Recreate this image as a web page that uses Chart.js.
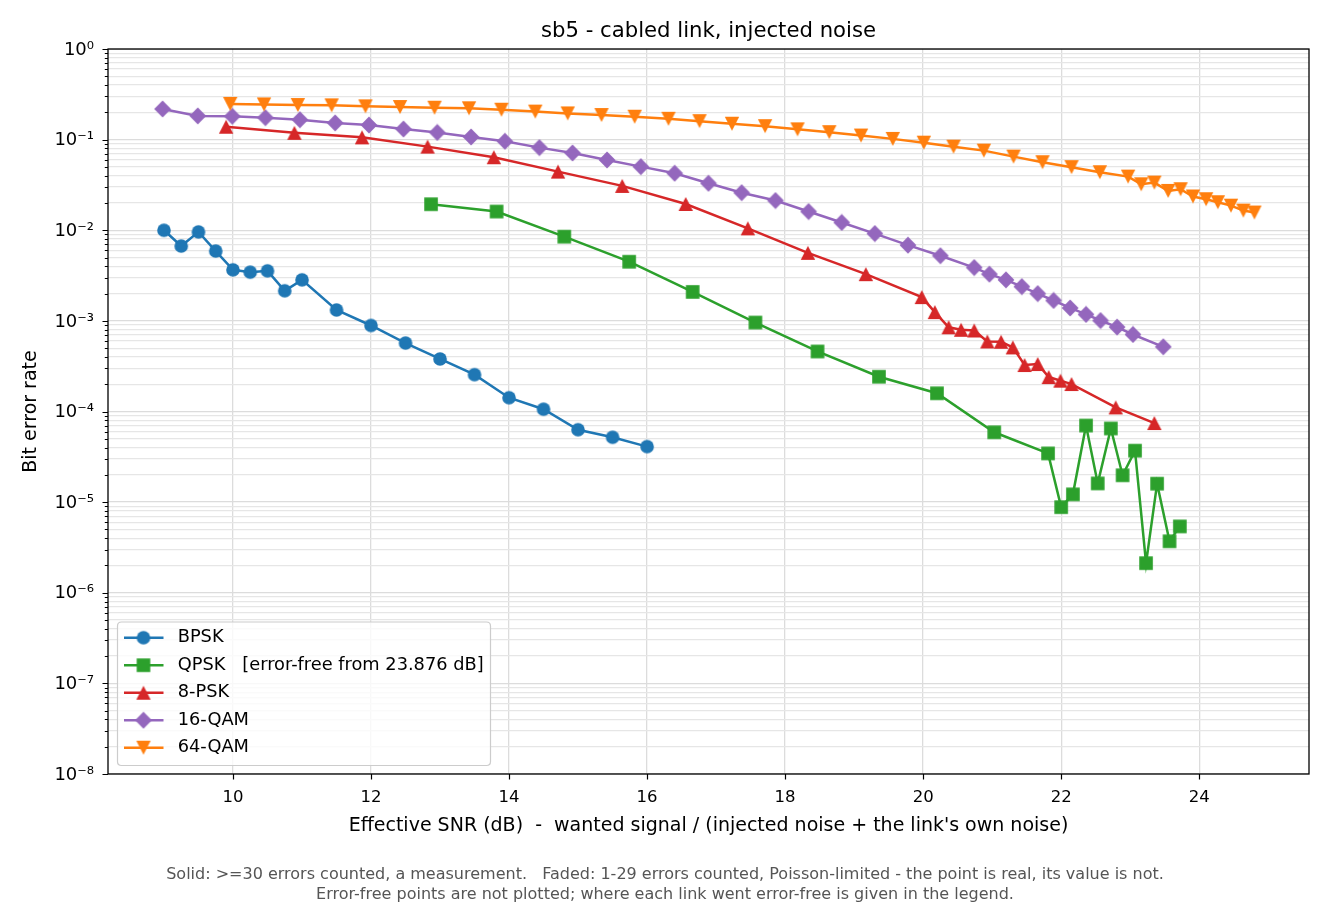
<!DOCTYPE html>
<html><head><meta charset="utf-8">
<script src="https://cdn.jsdelivr.net/npm/chart.js@4.4.0/dist/chart.umd.min.js"></script>
<style>html,body{margin:0;padding:0;background:#fff}canvas{display:block}</style>
</head><body>
<canvas id="c" width="1330" height="910" style="width:1330px;height:910px"></canvas>
<script>
const FONT = "'DejaVu Sans', sans-serif";

// ---- data ----
const bpskSnr = [9.0, 9.25, 9.5, 9.75, 10.0, 10.25, 10.5, 10.75, 11.0, 11.5, 12.0, 12.5, 13.0, 13.5, 14.0, 14.5, 15.0, 15.5, 16.0];
const bpskBer = [1.00e-2, 6.7e-3, 9.6e-3, 5.9e-3, 3.66e-3, 3.45e-3, 3.57e-3, 2.15e-3, 2.84e-3, 1.32e-3, 8.9e-4, 5.7e-4, 3.8e-4, 2.55e-4, 1.42e-4, 1.06e-4, 6.3e-5, 5.2e-5, 4.1e-5];

const qpskSnr = [12.87, 13.82, 14.80, 15.74, 16.66, 17.57, 18.47, 19.36, 20.20, 21.03, 21.81, 22.00, 22.17, 22.36, 22.53, 22.72, 22.89, 23.07, 23.23, 23.39, 23.57, 23.72];
const qpskBer = [1.94e-2, 1.61e-2, 8.5e-3, 4.5e-3, 2.09e-3, 9.6e-4, 4.6e-4, 2.42e-4, 1.59e-4, 5.9e-5, 3.45e-5, 8.8e-6, 1.22e-5, 7.0e-5, 1.61e-5, 6.5e-5, 1.98e-5, 3.7e-5, 2.12e-6, 1.6e-5, 3.7e-6, 5.4e-6];

const psk8Snr = [9.90, 10.89, 11.87, 12.82, 13.78, 14.71, 15.64, 16.56, 17.46, 18.33, 19.17, 19.98, 20.17, 20.37, 20.55, 20.74, 20.93, 21.13, 21.30, 21.47, 21.66, 21.82, 21.99, 22.15, 22.79, 23.35];
const psk8Ber = [0.139, 0.119, 0.106, 0.0838, 0.064, 0.0444, 0.0309, 0.0195, 0.0105, 5.64e-3, 3.28e-3, 1.83e-3, 1.25e-3, 8.5e-4, 7.98e-4, 7.84e-4, 5.93e-4, 5.88e-4, 5.1e-4, 3.26e-4, 3.34e-4, 2.40e-4, 2.19e-4, 2.01e-4, 1.11e-4, 7.46e-5];

const qam16Snr = [8.98, 9.49, 9.99, 10.47, 10.97, 11.48, 11.97, 12.47, 12.96, 13.45, 13.94, 14.44, 14.92, 15.42, 15.91, 16.40, 16.89, 17.37, 17.86, 18.34, 18.82, 19.30, 19.78, 20.25, 20.74, 20.96, 21.20, 21.43, 21.66, 21.89, 22.13, 22.36, 22.57, 22.81, 23.04, 23.48];
const qam16Ber = [0.218, 0.183, 0.181, 0.175, 0.166, 0.153, 0.145, 0.131, 0.120, 0.107, 0.096, 0.0817, 0.0713, 0.0597, 0.0504, 0.0426, 0.033, 0.026, 0.0213, 0.0161, 0.0122, 9.2e-3, 6.85e-3, 5.24e-3, 3.88e-3, 3.28e-3, 2.84e-3, 2.39e-3, 2.0e-3, 1.68e-3, 1.39e-3, 1.18e-3, 1.01e-3, 8.55e-4, 7.08e-4, 5.18e-4];

const qam64Snr = [9.96, 10.45, 10.94, 11.43, 11.92, 12.42, 12.92, 13.42, 13.89, 14.38, 14.85, 15.34, 15.82, 16.31, 16.76, 17.23, 17.71, 18.18, 18.64, 19.10, 19.56, 20.01, 20.44, 20.88, 21.31, 21.73, 22.15, 22.56, 22.97, 23.16, 23.35, 23.55, 23.73, 23.91, 24.10, 24.27, 24.46, 24.64, 24.80];
const qam64Ber = [0.248, 0.245, 0.241, 0.239, 0.233, 0.229, 0.225, 0.222, 0.214, 0.204, 0.195, 0.187, 0.179, 0.170, 0.160, 0.150, 0.141, 0.130, 0.121, 0.111, 0.102, 0.0927, 0.0837, 0.0757, 0.065, 0.0564, 0.0497, 0.0437, 0.0391, 0.0322, 0.0336, 0.0272, 0.0284, 0.0236, 0.0220, 0.0204, 0.0187, 0.0165, 0.0157];

const seriesNames = ['BPSK', 'QPSK   [error-free from 23.876 dB]', '8-PSK', '16-QAM', '64-QAM'];
const seriesColors = ['#1f77b4', '#2ca02c', '#d62728', '#9467bd', '#ff7f0e'];
const seriesMarkers = ['circle', 'square', 'tri', 'diamond', 'triDown'];

const xTicks = [10, 12, 14, 16, 18, 20, 22, 24];
const yDecades = [-8, -7, -6, -5, -4, -3, -2, -1, 0];

const titleText = 'sb5 - cabled link, injected noise';
const xTitle = "Effective SNR (dB)  -  wanted signal / (injected noise + the link's own noise)";
const yTitle = 'Bit error rate';
const footerLines = [
  'Solid: >=30 errors counted, a measurement.   Faded: 1-29 errors counted, Poisson-limited - the point is real, its value is not.',
  'Error-free points are not plotted; where each link went error-free is given in the legend.'
];

// ---- helpers ----
function makeMarker(shape, color) {
  const c = document.createElement('canvas');
  const S = 18; c.width = S; c.height = S;
  const g = c.getContext('2d');
  g.fillStyle = color;
  const m = S / 2;
  g.beginPath();
  if (shape === 'circle') g.arc(m, m, 6.8, 0, Math.PI * 2);
  else if (shape === 'square') g.rect(m - 6.8, m - 6.8, 13.6, 13.6);
  else if (shape === 'tri') { g.moveTo(m, m - 7); g.lineTo(m + 7.2, m + 7); g.lineTo(m - 7.2, m + 7); g.closePath(); }
  else if (shape === 'triDown') { g.moveTo(m, m + 7); g.lineTo(m + 7.2, m - 7); g.lineTo(m - 7.2, m - 7); g.closePath(); }
  else if (shape === 'diamond') { g.moveTo(m, m - 8.4); g.lineTo(m + 8.4, m); g.lineTo(m, m + 8.4); g.lineTo(m - 8.4, m); g.closePath(); }
  g.fill();
  return c;
}
const SUP = {'-': '\u207B', '0': '\u2070', '1': '\u00B9', '2': '\u00B2', '3': '\u00B3', '4': '\u2074', '5': '\u2075', '6': '\u2076', '7': '\u2077', '8': '\u2078', '9': '\u2079'};
function sup(n) { return String(n).split('').map(ch => SUP[ch]).join(''); }
function isDecade(v) { const l = Math.log10(v); return Math.abs(l - Math.round(l)) < 1e-9; }

const xs = [bpskSnr, qpskSnr, psk8Snr, qam16Snr, qam64Snr];
const ys = [bpskBer, qpskBer, psk8Ber, qam16Ber, qam64Ber];
const markers = seriesMarkers.map((s, i) => makeMarker(s, seriesColors[i]));

const datasets = seriesNames.map((name, i) => ({
  label: name,
  data: xs[i].map((x, k) => ({x: x, y: ys[i][k]})),
  borderColor: seriesColors[i],
  backgroundColor: seriesColors[i],
  borderWidth: 2.5,
  pointStyle: markers[i],
  pointRadius: 6,
  pointHoverRadius: 6,
  tension: 0,
  fill: false,
  order: seriesNames.length - 1 - i
}));

const decorPlugin = {
  id: 'decor',
  afterDatasetsDraw(chart) {
    const ctx = chart.ctx;
    const a = chart.chartArea;
    const sx = chart.scales.x, sy = chart.scales.y;
    ctx.save();
    // tick marks
    ctx.strokeStyle = '#000';
    ctx.lineWidth = 1.2;
    ctx.beginPath();
    sx.ticks.forEach(t => {
      const p = Math.round(sx.getPixelForValue(t.value)) + 0.5;
      ctx.moveTo(p, a.bottom); ctx.lineTo(p, a.bottom + 5.5);
    });
    sy.ticks.forEach(t => {
      const p = Math.round(sy.getPixelForValue(t.value)) + 0.5;
      const len = isDecade(t.value) ? 5.5 : 3.2;
      ctx.moveTo(a.left, p); ctx.lineTo(a.left - len, p);
    });
    ctx.stroke();
    // frame
    ctx.lineWidth = 1.3;
    ctx.strokeRect(a.left, a.top, a.right - a.left, a.bottom - a.top);

    // legend
    const lx = 117.5, ly = 622, lw = 373, lh = 143.5, r = 4;
    ctx.beginPath();
    ctx.moveTo(lx + r, ly);
    ctx.lineTo(lx + lw - r, ly); ctx.quadraticCurveTo(lx + lw, ly, lx + lw, ly + r);
    ctx.lineTo(lx + lw, ly + lh - r); ctx.quadraticCurveTo(lx + lw, ly + lh, lx + lw - r, ly + lh);
    ctx.lineTo(lx + r, ly + lh); ctx.quadraticCurveTo(lx, ly + lh, lx, ly + lh - r);
    ctx.lineTo(lx, ly + r); ctx.quadraticCurveTo(lx, ly, lx + r, ly);
    ctx.closePath();
    ctx.fillStyle = 'rgba(255,255,255,0.8)';
    ctx.fill();
    ctx.strokeStyle = '#cccccc';
    ctx.lineWidth = 1.2;
    ctx.stroke();
    chart.data.datasets.forEach((ds, i) => {
      const y = 637.7 + i * 27.5;
      ctx.strokeStyle = ds.borderColor;
      ctx.lineWidth = 2.5;
      ctx.beginPath(); ctx.moveTo(124, y); ctx.lineTo(163.5, y); ctx.stroke();
      const mk = ds.pointStyle;
      ctx.drawImage(mk, 143.5 - mk.width / 2, y - mk.height / 2);
      ctx.fillStyle = '#000';
      ctx.font = "17.8px " + FONT;
      ctx.textBaseline = 'middle';
      ctx.textAlign = 'left';
      ctx.fillText(ds.label, 177.7, y);
    });

    // footer
    ctx.fillStyle = '#555555';
    ctx.font = "16px " + FONT;
    ctx.textAlign = 'center';
    ctx.textBaseline = 'middle';
    footerLines.forEach((t, i) => ctx.fillText(t, 665, 875 + i * 20));
    ctx.restore();
  }
};

new Chart(document.getElementById('c'), {
  type: 'line',
  data: {datasets: datasets},
  plugins: [decorPlugin],
  options: {
    responsive: false,
    animation: false,
    devicePixelRatio: 1,
    layout: {padding: {left: 0, right: 21, top: 0, bottom: 55}},
    plugins: {
      legend: {display: false},
      tooltip: {enabled: false},
      title: {
        display: true,
        text: titleText,
        fullSize: false,
        color: '#000',
        font: {family: FONT, size: 21.2, weight: 'normal', lineHeight: 1.2},
        padding: {top: 19, bottom: 4.6}
      }
    },
    scales: {
      x: {
        type: 'linear',
        min: 8.189,
        max: 25.591,
        afterBuildTicks(scale) { scale.ticks = xTicks.map(v => ({value: v})); },
        afterFit(scale) { scale.height = 81; },
        grid: {color: '#dcdcdc', lineWidth: 1.3, drawTicks: false},
        border: {display: false},
        ticks: {
          autoSkip: false,
          maxRotation: 0,
          padding: 14.1,
          color: '#000',
          font: {family: FONT, size: 16.5, lineHeight: 1.2},
          callback: v => String(v)
        },
        title: {
          display: true,
          text: xTitle,
          color: '#000',
          font: {family: FONT, size: 19, lineHeight: 1.2},
          padding: {top: 0, bottom: 17.6}
        }
      },
      y: {
        type: 'logarithmic',
        min: 1e-8,
        max: 1,
        afterBuildTicks(scale) {
          const t = [];
          yDecades.forEach(e => {
            if (e === 0) { t.push({value: 1}); return; }
            for (let s = 1; s <= 9; s++) t.push({value: parseFloat(s + 'e' + e)});
          });
          scale.ticks = t;
        },
        afterFit(scale) { scale.width = 108; },
        grid: {
          color: ctx => (ctx.tick && isDecade(ctx.tick.value)) ? '#dcdcdc' : '#e6e6e6',
          lineWidth: 1.3,
          drawTicks: false
        },
        border: {display: false},
        ticks: {
          autoSkip: false,
          padding: 14,
          labelOffset: 1,
          color: '#000',
          font: {family: FONT, size: 18, lineHeight: 1.2},
          callback: v => isDecade(v) ? '10' + sup(Math.round(Math.log10(v))) : ''
        },
        title: {
          display: true,
          text: yTitle,
          color: '#000',
          font: {family: FONT, size: 19, lineHeight: 1.2},
          padding: {top: 19.6, bottom: 0}
        }
      }
    }
  }
});
</script>
</body></html>
